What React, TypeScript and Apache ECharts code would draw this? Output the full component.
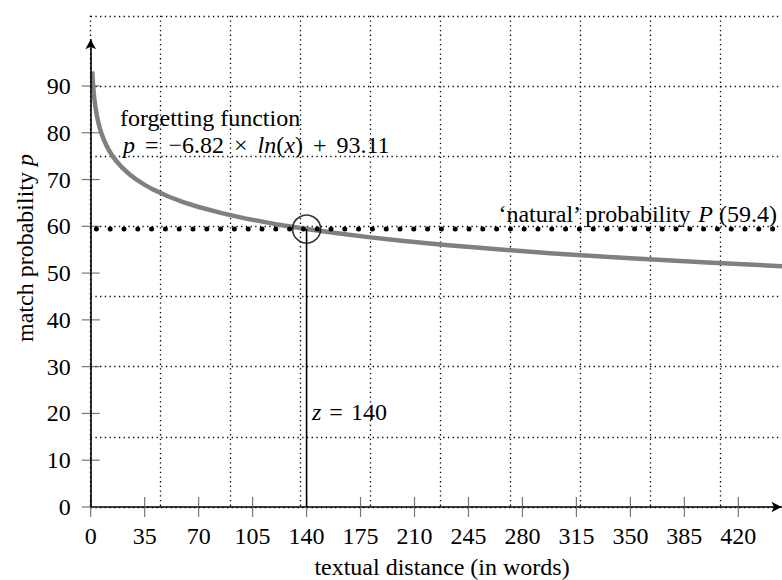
import React, { useEffect, useRef } from "react";
import * as echarts from "echarts";

const xTicks = [0, 35, 70, 105, 140, 175, 210, 245, 280, 315, 350, 385, 420];
const yTicks = [0, 10, 20, 30, 40, 50, 60, 70, 80, 90];
const curveX = [1, 1.25, 1.5, 2, 2.5, 3, 4, 5, 6, 7, 8, 10, 12, 14, 17, 20, 25, 30, 35, 40, 50, 60, 70, 85, 100, 120, 140, 160, 180, 200, 230, 260, 300, 350, 400, 450];
const curveP = [93.11, 91.59, 90.34, 88.38, 86.86, 85.62, 83.66, 82.13, 80.89, 79.84, 78.93, 77.41, 76.16, 75.11, 73.79, 72.68, 71.16, 69.91, 68.86, 67.95, 66.43, 65.19, 64.13, 62.81, 61.7, 60.46, 59.41, 58.5, 57.69, 56.98, 56.02, 55.19, 54.21, 53.16, 52.25, 51.45];
const naturalP = 59.4;
const zValue = 140;
const xMin = 0;
const xMax = 448;
const yMax = 105;
const yArrowTop = 100;
const gridStepX = 45.4;
const gridStepY = 15;
const naturalStartX = 3.7;

const FONT = "Liberation Serif";

export default function App() {
  const ref = useRef<HTMLDivElement>(null);
  useEffect(() => {
    if (!ref.current) return;
    const chart = echarts.init(ref.current, null, { renderer: "svg" });
    const dotted = { color: "#000", width: 1.3, type: [1.3, 3.4] as any };
    const tickColor = "#555";
    const italic = { fontStyle: "italic", fontFamily: FONT, fontSize: 24, color: "#000" };
    const upright = { fontFamily: FONT, fontSize: 24, color: "#000" };
    const op = { fontFamily: FONT, fontSize: 24, color: "#000", padding: [0, 8] };
    const opWide = { fontFamily: FONT, fontSize: 24, color: "#000", padding: [0, 10] };
    const option: any = {
      animation: false,
      backgroundColor: "#fff",
      textStyle: { fontFamily: FONT },
      grid: { left: 90.7, top: 15.8, width: 690.8, height: 491.2 },
      xAxis: [
        {
          type: "value", position: "bottom", min: xMin, max: xMax,
          axisLine: { show: true, onZero: false, lineStyle: { color: "#000", width: 1.6 }, symbol: ["none", "arrow"], symbolSize: [8, 10] },
          axisTick: { show: false },
          axisLabel: { show: true, customValues: xTicks, margin: 17, fontFamily: FONT, fontSize: 24, color: "#000" },
          splitLine: { show: false },
        },
        {
          type: "value", position: "bottom", min: xMin, max: xMax, interval: gridStepX,
          axisLine: { show: false }, axisTick: { show: false }, axisLabel: { show: false },
          splitLine: { show: true, showMaxLine: false, lineStyle: dotted },
        },
      ],
      yAxis: [
        {
          type: "value", position: "left", min: 0, max: yMax, interval: gridStepY,
          axisLine: { show: false }, axisTick: { show: false }, axisLabel: { show: false },
          splitLine: { show: true, lineStyle: dotted },
        },
        {
          type: "value", position: "left", min: 0, max: yMax,
          axisLine: { show: false },
          axisTick: { show: false },
          axisLabel: { show: true, customValues: yTicks, margin: 20, fontFamily: FONT, fontSize: 24, color: "#000" },
          splitLine: { show: false },
        },
      ],
      series: [
        {
          type: "line", xAxisIndex: 0, yAxisIndex: 1,
          data: curveX.map((x, i) => [x, curveP[i]]),
          smooth: false, showSymbol: false,
          lineStyle: { color: "#808080", width: 4.5, join: "round" },
          z: 3,
          markLine: {
            silent: true, symbol: ["none", "arrow"], symbolSize: [8, 10],
            label: { show: false },
            lineStyle: { color: "#000", width: 1.6, type: "solid" },
            data: [[{ coord: [0, 0] }, { coord: [0, yArrowTop] }]],
          },
        },
        {
          type: "scatter", xAxisIndex: 0, yAxisIndex: 1, clip: false, silent: true,
          data: xTicks.map((t) => [t, 0]),
          symbol: "rect", symbolSize: [1.2, 20],
          itemStyle: { color: tickColor },
          z: 2,
        },
        {
          type: "scatter", xAxisIndex: 0, yAxisIndex: 1, clip: false, silent: true,
          data: yTicks.map((t) => [0, t]),
          symbol: "rect", symbolSize: [18, 1.2],
          itemStyle: { color: tickColor },
          z: 2,
        },
        {
          type: "line", xAxisIndex: 0, yAxisIndex: 1,
          data: [[naturalStartX, naturalP], [xMax, naturalP]],
          showSymbol: false,
          lineStyle: { color: "#000", width: 5, type: [0, 13.8], cap: "round" },
          z: 4,
        },
        {
          type: "line", xAxisIndex: 0, yAxisIndex: 1,
          data: [[zValue, naturalP], [zValue, 0]],
          showSymbol: false,
          lineStyle: { color: "#000", width: 1.6 },
          z: 5,
        },
        {
          type: "scatter", xAxisIndex: 0, yAxisIndex: 1,
          data: [[zValue, naturalP]],
          symbol: "circle", symbolSize: 28,
          itemStyle: { color: "rgba(0,0,0,0)", borderColor: "#000", borderWidth: 1.6 },
          z: 6,
        },
      ],
      graphic: [
        {
          type: "text", left: 120, top: 106, z: 10,
          style: { text: "forgetting function", ...upright },
        },
        {
          type: "text", left: 123, top: 133, z: 10,
          style: {
            text: "{i|p}{o|=}−6.82{o|×}{i|ln}({i|x}){o|+}93.11",
            ...upright,
            rich: { i: italic, o: opWide },
          },
        },
        {
          type: "text", right: 5, top: 202, z: 10,
          style: {
            text: "‘natural’ probability {i|P} (59.4)",
            ...upright,
            rich: { i: italic },
          },
        },
        {
          type: "text", left: 312, top: 400, z: 10,
          style: { text: "{i|z}{o|=}140", ...upright, rich: { i: italic, o: op } },
        },
        {
          type: "text", x: 442, y: 567, z: 10,
          style: { text: "textual distance (in words)", ...upright, align: "center", verticalAlign: "middle" },
        },
        {
          type: "text", x: 25, y: 248, rotation: Math.PI / 2, z: 10,
          style: { text: "match probability {i|p}", ...upright, rich: { i: italic }, align: "center", verticalAlign: "middle" },
        },
      ],
    };
    chart.setOption(option);
    return () => chart.dispose();
  }, []);
  return (
    <div
      ref={ref}
      style={{ position: "fixed", left: 0, top: 0, width: 782, height: 580, background: "#fff" }}
    />
  );
}
